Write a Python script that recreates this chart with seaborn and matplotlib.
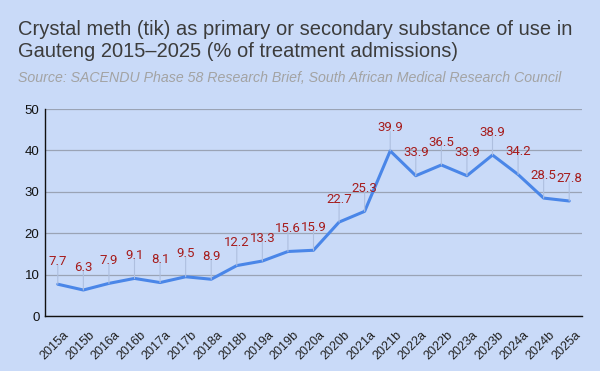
import matplotlib
matplotlib.use("Agg")
import matplotlib.pyplot as plt
import matplotlib.transforms as mtransforms
import seaborn as sns
import pandas as pd

periods = ["2015a", "2015b", "2016a", "2016b", "2017a", "2017b", "2018a", "2018b",
           "2019a", "2019b", "2020a", "2020b", "2021a", "2021b", "2022a", "2022b",
           "2023a", "2023b", "2024a", "2024b", "2025a"]
values = [7.7, 6.3, 7.9, 9.1, 8.1, 9.5, 8.9, 12.2, 13.3, 15.6, 15.9, 22.7, 25.3,
          39.9, 33.9, 36.5, 33.9, 38.9, 34.2, 28.5, 27.8]
yticks = [0, 10, 20, 30, 40, 50]

title = "Crystal meth (tik) as primary or secondary substance of use in\nGauteng 2015\u20132025 (% of treatment admissions)"
subtitle = "Source: SACENDU Phase 58 Research Brief, South African Medical Research Council"

BG = "#c9daf8"
sns.set_theme(style="white")
plt.rcParams["font.family"] = ["Liberation Sans", "DejaVu Sans"]

df = pd.DataFrame({"period": periods, "value": values})
df["x"] = range(len(periods))

fig = plt.figure(figsize=(6, 3.71), dpi=100, facecolor=BG)
ax = fig.add_axes([0.075, 0.148, 0.895, 0.558])
ax.set_facecolor(BG)

sns.lineplot(data=df, x="x", y="value", ax=ax, color="#4a86e8", linewidth=2.2)

for xi, v in zip(df["x"], df["value"]):
    ax.annotate("", xy=(xi, v), xytext=(0, 14), textcoords="offset points",
                arrowprops=dict(arrowstyle="-", color="#aebfdf", lw=0.8,
                                shrinkA=0, shrinkB=0))
    ax.annotate(f"{v}", xy=(xi, v), xytext=(0, 16.5), textcoords="offset points",
                ha="center", va="center", fontsize=9.5, color="#a61c1c",
                family=["Roboto", "DejaVu Sans"])

ax.set_xlim(-0.5, len(periods) - 0.5)
ax.set_ylim(0, 50)
ax.set_yticks(yticks)
ax.set_yticklabels([str(t) for t in yticks], fontsize=9.5, color="#111111")
ax.set_xticks(list(df["x"]))
ax.set_xticklabels(periods, rotation=45, ha="right", rotation_mode="anchor",
                   fontsize=9, color="#222222")
ax.tick_params(axis="y", length=0, pad=4)
ax.tick_params(axis="x", length=0, pad=9)
offset = mtransforms.ScaledTranslation(5 / 100, 0, fig.dpi_scale_trans)
for lbl in ax.get_xticklabels():
    lbl.set_transform(lbl.get_transform() + offset)
ax.grid(axis="y", color="#9aa3b5", linewidth=0.9)
ax.set_axisbelow(True)
ax.set_xlabel("")
ax.set_ylabel("")
for s in ["top", "right"]:
    ax.spines[s].set_visible(False)
for s in ["left", "bottom"]:
    ax.spines[s].set_color("#111111")
    ax.spines[s].set_linewidth(1)

fig.text(0.03, 0.945, title, fontsize=14.5, color="#3c3c3c", va="top", ha="left",
         linespacing=1.2)
fig.text(0.03, 0.79, subtitle, fontsize=10.2, color="#a3a3a3", style="italic",
         va="center", ha="left")

fig.savefig("out.png", dpi=100, facecolor=BG)
